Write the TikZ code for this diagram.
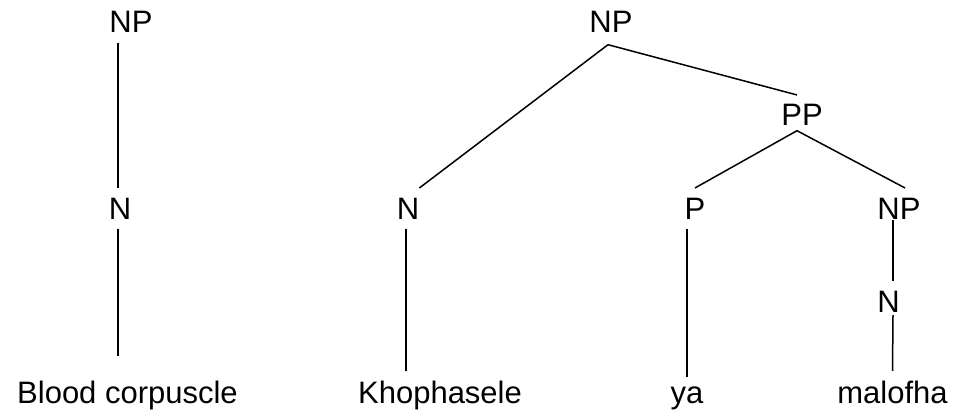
\documentclass[tikz,border=0pt]{standalone}
\usepackage{fontspec}
\setmainfont{Liberation Sans}
\begin{document}
\begin{tikzpicture}[x=1pt,y=-1pt,
  lab/.style={anchor=base,inner xsep=0pt,inner ysep=9.5pt,font=\fontsize{31}{37}\selectfont},
  edge/.style={line width=1.5pt}]
\useasboundingbox (0,0) rectangle (958,417);
% left tree
\node[lab] (npA) at (131,33) {NP};
\node[lab] (nA) at (120,219) {N};
\node[lab] (blood) at (127.5,403) {Blood corpuscle};
\coordinate (bloodtop) at ([yshift=14.5pt]blood.north);
\draw[edge] ([xshift=-2pt]nA.north |- npA.south) -- ([xshift=-2pt]nA.north);
\draw[edge] ([xshift=-2pt]nA.south) -- ([xshift=-2pt]nA.south |- bloodtop);
% right tree
\node[lab] (npB) at (611,33) {NP};
\node[lab] (pp) at (802,126) {PP};
\node[lab] (nB) at (408,219) {N};
\node[lab] (pB) at (695,219) {P};
\node[lab] (npC) at (899,219) {NP};
\node[lab] (nC) at (888.5,312) {N};
\node[lab] (kho) at (440,403) {Khophasele};
\node[lab] (ya) at (687,403) {ya};
\node[lab] (malofha) at (892.5,403) {malofha};
\draw[edge] ([xshift=-3pt,yshift=-2pt]npB.south) -- (nB.north east);
\draw[edge] ([xshift=-3pt,yshift=-2pt]npB.south) -- ([xshift=-5pt]pp.north);
\draw[edge] ([xshift=-5pt,yshift=5pt]pp.south) -- (pB.north);
\draw[edge] ([xshift=-5pt,yshift=5pt]pp.south) -- ([xshift=6pt]npC.north);
\draw[edge] ([xshift=-6pt,yshift=8.5pt]npC.south) -- ([xshift=4.5pt]nC.north);
\draw[edge] ([xshift=4.5pt,yshift=6.5pt]nC.south) -- (malofha.north);
\draw[edge] ([xshift=-8pt]pB.south) -- (ya.north);
\draw[edge] ([xshift=-2pt]nB.south) -- ([xshift=-2pt]nB.south |- kho.north);
\end{tikzpicture}
\end{document}
